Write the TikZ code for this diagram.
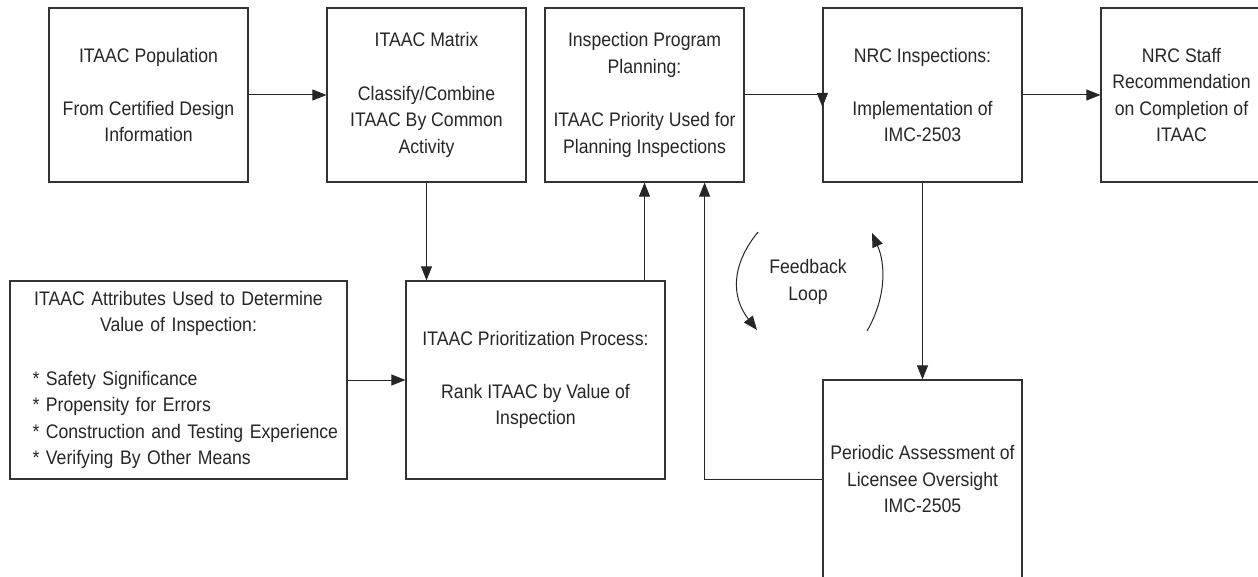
\documentclass[tikz,border=0pt]{standalone}
\usepackage{fontspec}
\setmainfont{Liberation Sans}[FakeStretch=0.9]
\usetikzlibrary{arrows.meta}
\begin{document}
\begin{tikzpicture}[x=0.5pt, y=-0.5pt,
		box/.style={draw=black!80, line width=0.6pt, minimum width=99.5pt, minimum height=87pt, align=center, inner sep=2pt, text=black!85, font=\fontsize{9.8}{13.3}\selectfont},
		arr/.style={draw=black!85, line width=0.5pt, -{Triangle[length=7pt, width=5.5pt]}}]
		\useasboundingbox (0,0) rectangle (1258,577);
		\node[box] (pop) at (148.5,95) {ITAAC Population\\[13.3pt] From Certified Design\\ Information};
		\node[box] (mat) at (426.5,95) {ITAAC Matrix\\[13.3pt] Classify/Combine\\ ITAAC By Common\\ Activity};
		\node[box] (plan) at (644.5,95) {Inspection Program\\ Planning:\\[13.3pt] ITAAC Priority Used for\\ Planning Inspections};
		\node[box] (insp) at (922.5,95) {NRC Inspections:\\[13.3pt] Implementation of\\ IMC-2503};
		\node[box, minimum width=80.5pt] (rec) at (1181.5,95) {NRC Staff\\ Recommendation\\ on Completion of\\ ITAAC};
		\node[box, minimum width=168.5pt, minimum height=99pt, text width=160pt, align=left] (attr) at (178.5,380) {{\centering ITAAC Attributes Used to Determine\\ Value of Inspection:\par}\vspace{13.3pt}{\raggedright\leftskip=7pt {*} Safety Significance\\{*} Propensity for Errors\\{*} Construction and Testing Experience\\{*} Verifying By Other Means\par}};
		\node[box, minimum width=129.5pt, minimum height=99pt] (prio) at (535.5,380) {ITAAC Prioritization Process:\\[13.3pt] Rank ITAAC by Value of\\ Inspection};
		\node[box, minimum height=99pt] (assess) at (922.5,479) {Periodic Assessment of\\ Licensee Oversight\\ IMC-2505};
		\node[text=black!85, align=center, font=\fontsize{9.8}{13.3}\selectfont] (fb) at (808,282) {Feedback\\ Loop};
		\coordinate (fl1) at (758,232);
		\coordinate (fl2) at (757,330);
		\coordinate (fr1) at (867,331);
		\coordinate (fr2) at (872,233);
		
		\draw[arr] (pop) -- (mat);
		\draw[arr] (plan.east) -- (insp.west) -- ++(0,12);
		\draw[arr] (insp) -- (rec);
		\draw[arr] (mat.south) -- (mat.south |- prio.north);
		\draw[arr] (attr) -- (prio);
		\draw[arr] (prio.north -| plan.south) -- (plan.south);
		\draw[arr] (insp) -- (assess);
		\draw[arr] (assess.west) -| ([xshift=-20pt]plan.south east);
		\draw[arr] (fl1) .. controls (731,265) and (731,297) .. (fl2);
		\draw[arr] (fr1) .. controls (886,298) and (886,265) .. (fr2);
	\end{tikzpicture}
\end{document}
